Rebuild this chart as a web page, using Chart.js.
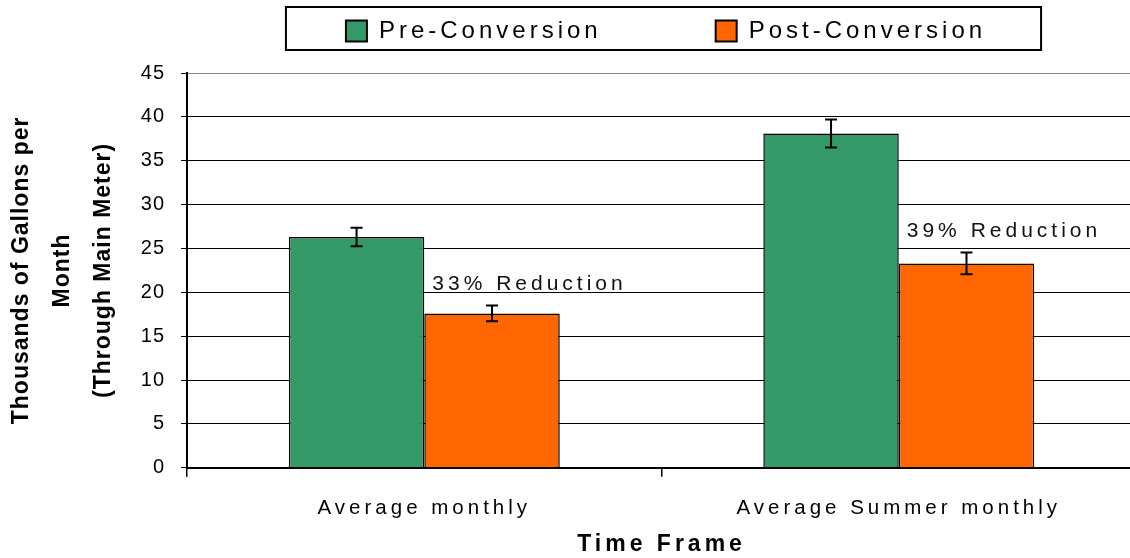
<!DOCTYPE html>
<html>
<head>
<meta charset="utf-8">
<script src="https://cdn.jsdelivr.net/npm/chart.js@4.4.1/dist/chart.umd.min.js"></script>
<style>
    html, body { margin: 0; padding: 0; overflow: hidden; background: #fff; }
    #contenedor { width: 1140px; height: 558px; }
</style>
</head>
<body>
<div id="contenedor"><canvas id="graficoConsumo" width="1140" height="558"></canvas></div>
<script>
//Datos del grafico
const categorias = ["Average monthly", "Average Summer monthly"];
const nombresSeries = ["Pre-Conversion", "Post-Conversion"];
const preConversion = [26.3, 38.1];
const preError = [1.05, 1.6];
const postConversion = [17.6, 23.3];
const postError = [0.9, 1.25];
const reducciones = ["33% Reduction", "39% Reduction"];
const ticksY = [0, 5, 10, 15, 20, 25, 30, 35, 40, 45];
const tituloY = ["Thousands of Gallons per", "Month", "(Through Main Meter)"];
const tituloX = "Time Frame";

const fuente = "'Liberation Sans', Arial, sans-serif";

// espaciado de letras: 4px en general, casi nada en el eje Y
const espaciado = {
    id: "espaciado",
    beforeLayout(chart) {
        chart.ctx.letterSpacing = "4px";
        const ejeY = chart.scales.y;
        if (ejeY && !ejeY._envuelto) {
            ejeY._envuelto = true;
            const upd = ejeY.update;
            const dib = ejeY.draw;
            ejeY.update = function (...args) {
                this.ctx.letterSpacing = "1px";
                const r = upd.apply(this, args);
                this.ctx.letterSpacing = "4px";
                return r;
            };
            ejeY.draw = function (...args) {
                this.ctx.letterSpacing = "1px";
                dib.apply(this, args);
                this.ctx.letterSpacing = "4px";
            };
        }
    },
    afterLayout(chart) {
        // la leyenda del original no esta centrada en el lienzo
        const leyenda = chart.legend;
        const ancho = leyenda.right - leyenda.left;
        leyenda.left = 666 - ancho / 2;
        leyenda.right = leyenda.left + ancho;
        leyenda.top = 19 - leyenda.options.labels.padding;
    },
    beforeDraw(chart) {
        chart.ctx.letterSpacing = "4px";
    }
};

// barras de error, textos de reduccion y marco de la leyenda
const extras = {
    id: "extras",
    afterDatasetsDraw(chart) {
        const ctx = chart.ctx;
        const ejeY = chart.scales.y;
        const errores = [preError, postError];
        ctx.save();
        ctx.strokeStyle = "#000";
        ctx.lineWidth = 2;
        chart.data.datasets.forEach((ds, i) => {
            chart.getDatasetMeta(i).data.forEach((barra, j) => {
                const v = ds.data[j];
                const e = errores[i][j];
                const arriba = ejeY.getPixelForValue(v + e);
                const abajo = ejeY.getPixelForValue(v - e);
                ctx.beginPath();
                ctx.moveTo(barra.x, arriba); ctx.lineTo(barra.x, abajo);
                ctx.moveTo(barra.x - 6, arriba); ctx.lineTo(barra.x + 6, arriba);
                ctx.moveTo(barra.x - 6, abajo); ctx.lineTo(barra.x + 6, abajo);
                ctx.stroke();

                if (i === 1) {
                    ctx.fillStyle = "#111";
                    ctx.font = `21px ${fuente}`;
                    ctx.letterSpacing = "4px";
                    ctx.textAlign = "left";
                    ctx.textBaseline = "alphabetic";
                    ctx.fillText(reducciones[j], barra.x - barra.width / 2 + 8, arriba - 15);
                }
            });
        });
        ctx.restore();
    },
    afterDraw(chart) {
        const cajas = chart.legend.legendHitBoxes;
        if (!cajas || !cajas.length) return;
        const primera = cajas[0];
        const ultima = cajas[cajas.length - 1];
        const ctx = chart.ctx;
        ctx.save();
        ctx.strokeStyle = "#000";
        ctx.lineWidth = 2;
        const x1 = primera.left - 60;
        const x2 = ultima.left + ultima.width + 55;
        ctx.strokeRect(x1, 7, x2 - x1, 43);
        ctx.restore();
    }
};

const ctx = document.getElementById("graficoConsumo");

new Chart(ctx, {
    type: "bar",
    data: {
        labels: categorias,
        datasets: [{
            label: nombresSeries[0],
            data: preConversion,
            backgroundColor: "#339966",
            borderColor: "#000",
            borderWidth: 1.5,
            categoryPercentage: 0.571,
            barPercentage: 1
        }, {
            label: nombresSeries[1],
            data: postConversion,
            backgroundColor: "#FF6600",
            borderColor: "#000",
            borderWidth: 1.5,
            categoryPercentage: 0.571,
            barPercentage: 1
        }]
    },
    options: {
        responsive: false,
        animation: false,
        layout: { padding: { left: 0, right: 4, top: 0, bottom: 0 } },
        plugins: {
            tooltip: { enabled: false },
            legend: {
                position: "top",
                maxHeight: 73,
                labels: {
                    color: "#000",
                    font: { family: fuente, size: 24 },
                    boxWidth: 21,
                    boxHeight: 21,
                    padding: 114,
                    generateLabels(chart) {
                        const items = Chart.defaults.plugins.legend.labels.generateLabels(chart);
                        items.forEach(it => { it.lineWidth = 2; it.strokeStyle = "#000"; });
                        return items;
                    }
                }
            }
        },
        scales: {
            x: {
                border: { display: true, color: "#000", width: 2 },
                grid: { drawOnChartArea: false, drawTicks: true, tickLength: 9, color: "#000", lineWidth: 1.5 },
                ticks: { color: "#000", font: { family: fuente, size: 20.5 }, padding: 19, maxRotation: 0 },
                title: {
                    display: true, text: tituloX, color: "#000",
                    font: { family: fuente, size: 23, weight: "bold" },
                    padding: { top: -9, bottom: 0 }
                }
            },
            y: {
                min: 0,
                max: 45,
                afterBuildTicks: eje => { eje.ticks = ticksY.map(v => ({ value: v })); },
                border: { display: true, color: "#000", width: 2 },
                grid: {
                    color: c => (c.tick && c.tick.value === 45 ? "#8c8c8c" : "#000"),
                    lineWidth: 1,
                    tickLength: 6,
                    tickColor: "#000"
                },
                ticks: { color: "#000", font: { family: fuente, size: 20 }, padding: 16 },
                title: {
                    display: true, text: tituloY, color: "#000",
                    font: { family: fuente, size: 23, weight: "bold", lineHeight: 1.78 },
                    padding: { top: 1, bottom: 1 }
                }
            }
        }
    },
    plugins: [espaciado, extras]
});
</script>
</body>
</html>
